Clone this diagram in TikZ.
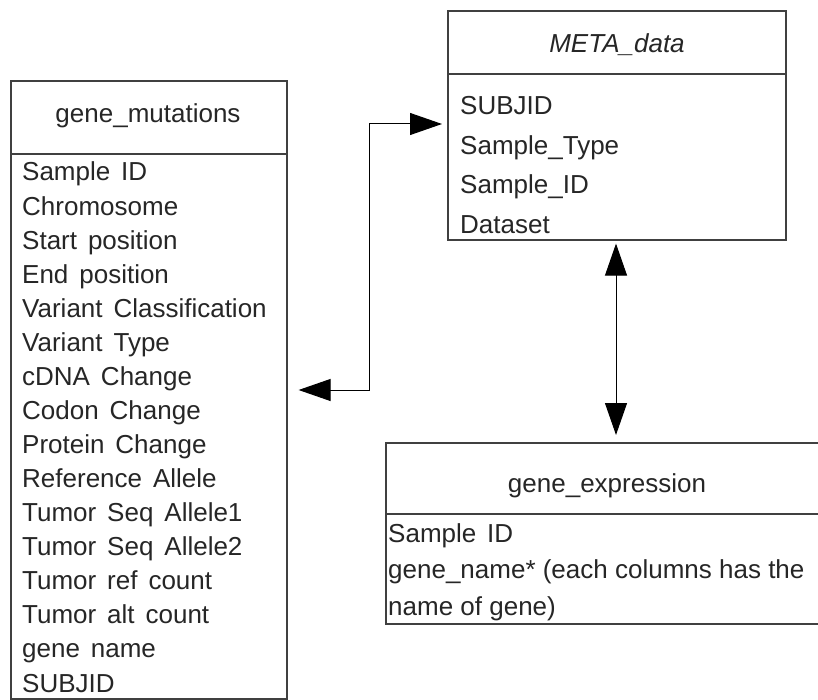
\documentclass[tikz,border=0pt]{standalone}
\usepackage{fontspec}
\setmainfont{Liberation Sans}
\usetikzlibrary{arrows.meta}
\newcommand{\wsp}{\hspace{0.42em}}
\begin{document}
\begin{tikzpicture}[x=1pt,y=-1pt,
  tbox/.style={draw=black!75, line width=1.6pt, anchor=north west, inner sep=0pt},
  ttl/.style={text=black!85, inner sep=0pt, anchor=base, font=\fontsize{26}{30}\selectfont},
  row/.style={text=black!85, inner sep=0pt, anchor=base west, font=\fontsize{26}{30}\selectfont},
  conn/.style={draw=black, line width=1pt, {Triangle[length=32pt,width=22pt]}-{Triangle[length=32pt,width=22pt]}}
]
\path[use as bounding box, clip] (0,0) rectangle (818,700);
\fill[white] (0,0) rectangle (818,700);

% gene_mutations
\node[tbox, minimum width=276pt, minimum height=73pt] (gmh) at (10,80) {};
\node[tbox, minimum width=276pt, minimum height=545pt] (gmb) at (10,153) {};
\node[ttl] (gmt) at (148,123) {gene\_mutations};
\foreach \t [count=\i] in {Sample\wsp ID, Chromosome, Start\wsp position, End\wsp position,
  Variant\wsp Classification, Variant\wsp Type, cDNA\wsp Change, Codon\wsp Change,
  Protein\wsp Change, Reference\wsp Allele, Tumor\wsp Seq\wsp Allele1, Tumor\wsp Seq\wsp Allele2,
  Tumor\wsp ref\wsp count, Tumor\wsp alt\wsp count, gene\wsp name, SUBJID}
  \node[row] (gm\i) at (22,{181+34.07*(\i-1)}) {\t};

% META_data
\node[tbox, minimum width=338pt, minimum height=63pt] (mdh) at (447,10) {};
\node[tbox, minimum width=338pt, minimum height=166pt] (mdb) at (447,73) {};
\node[ttl, font=\fontsize{26}{30}\selectfont\itshape] (mdt) at (617,53) {META\_data};
\foreach \t [count=\i] in {SUBJID, Sample\_Type, Sample\_ID, Dataset}
  \node[row] (md\i) at (460,{115+39.5*(\i-1)}) {\t};

% gene_expression
\node[tbox, minimum width=444pt, minimum height=71pt] (geh) at (385,442) {};
\node[tbox, minimum width=444pt, minimum height=110pt] (geb) at (385,513) {};
\node[ttl] (get) at (607,492) {gene\_expression};
\node[row] (ge1) at (388,542) {Sample\wsp ID};
\node[row] (ge2) at (388,578) {gene\_name* (each columns has the};
\node[row] (ge3) at (388,615) {name of gene)};

% connectors
\coordinate (j1) at (369,390);
\coordinate (j2) at (369,124);
\coordinate (vx) at (616,0);
\draw[conn, shorten <=11pt, shorten >=5pt] (gmb.east |- j1) -- (j1) -- (j2) -- (mdb.west |- j2);
\draw[conn, shorten <=3pt, shorten >=7pt] (mdb.south -| vx) -- (geh.north -| vx);
\end{tikzpicture}
\end{document}
